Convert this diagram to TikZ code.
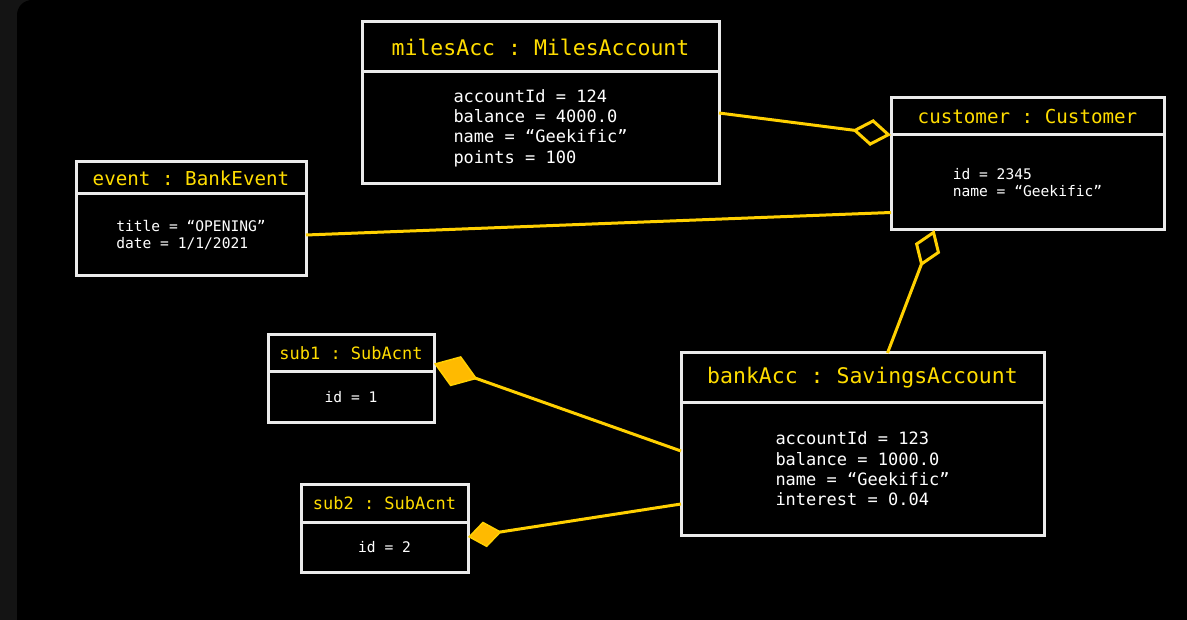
\documentclass[tikz,border=0pt]{standalone}
\usepackage{fontspec}
\setmonofont{DejaVu Sans Mono}
\usetikzlibrary{arrows.meta, calc, positioning}
\definecolor{titleyellow}{RGB}{255,221,0}
\definecolor{linkyellow}{RGB}{255,208,0}
\definecolor{diamondfill}{RGB}{255,186,0}
\definecolor{boxwhite}{RGB}{235,235,235}
\definecolor{sidegray}{RGB}{20,20,20}

\begin{document}
\begin{tikzpicture}[x=1pt, y=-1pt,
	objtitle/.style={draw=boxwhite, line width=3pt, text=titleyellow, inner sep=0pt, outer sep=0pt, anchor=north west},
	objbody/.style={draw=boxwhite, line width=3pt, text=white, align=left, inner sep=0pt, outer sep=0pt, anchor=north west},
	bigtitle/.style={font=\ttfamily\fontsize{21.5pt}{26pt}\selectfont},
	midtitle/.style={font=\ttfamily\fontsize{19.2pt}{23pt}\selectfont},
	smalltitle/.style={font=\ttfamily\fontsize{17pt}{20pt}\selectfont},
	bigattr/.style={font=\ttfamily\fontsize{17pt}{20.3pt}\selectfont},
	smallattr/.style={font=\ttfamily\fontsize{14.6pt}{17pt}\selectfont},
	link/.style={draw=linkyellow, line width=3pt},
	hollowtip/.style={-{Diamond[open, length=39pt, width=27pt]}},
	filledbig/.style={-{Diamond[fill=diamondfill, line width=1.5pt, length=46pt, width=32pt]}},
	filledsmall/.style={-{Diamond[fill=diamondfill, line width=1.5pt, length=34pt, width=26pt]}}]
	\useasboundingbox (0,0) rectangle (1187,620);
	\clip (0,0) rectangle (1187,620);
	% background
	\fill[sidegray] (0,0) rectangle (1187,620);
	\fill[black, rounded corners=15pt] (17,0) rectangle (1230,660);
	% objects
	\node[objtitle, bigtitle, minimum width=357pt, minimum height=50pt] (milesT) at (362,22) {milesAcc : MilesAccount};
	\node[objbody, bigattr, minimum width=357pt, minimum height=112pt] (milesB) at (milesT.south west) {accountId = 124\\ balance = 4000.0\\ name = “Geekific”\\ points = 100};
	\node[objtitle, midtitle, minimum width=273pt, minimum height=37pt] (custT) at (891,98) {customer : Customer};
	\node[objbody, smallattr, minimum width=273pt, minimum height=95pt] (custB) at (custT.south west) {id = 2345\\ name = “Geekific”};
	\node[objtitle, midtitle, minimum width=230pt, minimum height=32pt] (eventT) at (76,162) {event : BankEvent};
	\node[objbody, smallattr, minimum width=230pt, minimum height=82pt] (eventB) at (eventT.south west) {title = “OPENING”\\ date = 1/1/2021};
	\node[objtitle, smalltitle, minimum width=166pt, minimum height=37pt] (subOneT) at (268,335) {sub1 : SubAcnt};
	\node[objbody, smallattr, minimum width=166pt, minimum height=51pt] (subOneB) at (subOneT.south west) {id = 1};
	\node[objtitle, smalltitle, minimum width=167pt, minimum height=38pt] (subTwoT) at (301,484) {sub2 : SubAcnt};
	\node[objbody, smallattr, minimum width=167pt, minimum height=50pt] (subTwoB) at (subTwoT.south west) {id = 2};
	\node[objtitle, bigtitle, minimum width=363pt, minimum height=50pt] (bankT) at (681,353) {bankAcc : SavingsAccount};
	\node[objbody, bigattr, minimum width=363pt, minimum height=132pt] (bankB) at (bankT.south west) {accountId = 123\\ balance = 1000.0\\ name = “Geekific”\\ interest = 0.04};
	% links
	\draw[link, hollowtip] ([yshift=15pt]milesB.east) -- (custB.north west);
	\draw[link] (eventB.east) -- ([yshift=-30pt]custB.west);
	\draw[link, hollowtip] ([xshift=25pt]bankT.north) -- ([xshift=-93pt]custB.south);
	\draw[link, filledbig] ([yshift=18pt]bankB.west) -- ([yshift=-10pt]subOneT.east);
	\draw[link, filledsmall] ([yshift=-35pt]bankB.west) -- ([yshift=10pt]subTwoB.east);
\end{tikzpicture}
\end{document}
